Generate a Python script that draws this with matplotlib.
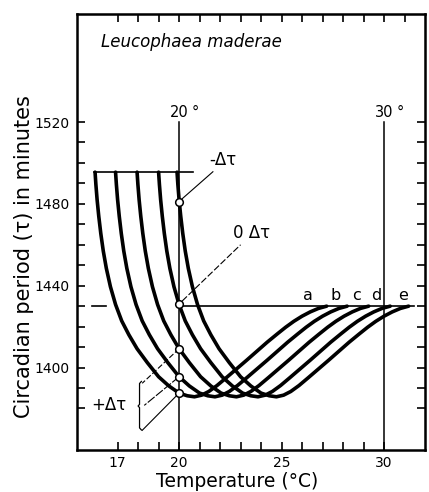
import matplotlib
matplotlib.use("Agg")
import matplotlib.pyplot as plt

# ---- data ----
period_path = [1495.5, 1489.5, 1482.0, 1474.0, 1465.5, 1457.0, 1448.5, 1439.5, 1430.8, 1422.8, 1416.0,
               1409.2, 1402.4, 1395.5, 1391.0, 1387.5, 1386.2, 1385.7, 1386.5, 1388.3, 1391.2, 1395.0,
               1399.3, 1403.6, 1408.0, 1412.4, 1416.5, 1419.7, 1422.6, 1425.1, 1427.2, 1428.9, 1430.0]

temp_a = [15.90, 15.94, 16.00, 16.08, 16.18, 16.30, 16.45, 16.65, 16.90, 17.20, 17.55, 17.95, 18.45, 19.00, 19.50,
          20.00, 20.40, 20.75, 21.10, 21.45, 21.85, 22.30, 22.80, 23.30, 23.80, 24.30, 24.80, 25.20, 25.60, 26.00,
          26.40, 26.80, 27.20]
temp_b = [16.90, 16.94, 17.00, 17.08, 17.18, 17.30, 17.45, 17.65, 17.90, 18.20, 18.55, 18.95, 19.45, 20.00, 20.50,
          21.00, 21.40, 21.75, 22.10, 22.45, 22.85, 23.30, 23.80, 24.30, 24.80, 25.30, 25.80, 26.20, 26.60, 27.00,
          27.40, 27.80, 28.20]
temp_c = [17.95, 17.99, 18.05, 18.13, 18.23, 18.35, 18.50, 18.70, 18.95, 19.25, 19.60, 20.00, 20.50, 21.05, 21.55,
          22.05, 22.45, 22.80, 23.15, 23.50, 23.90, 24.35, 24.85, 25.35, 25.85, 26.35, 26.85, 27.25, 27.65, 28.05,
          28.45, 28.85, 29.25]
temp_d = [19.00, 19.04, 19.10, 19.18, 19.28, 19.40, 19.55, 19.75, 20.00, 20.30, 20.65, 21.05, 21.55, 22.10, 22.60,
          23.10, 23.50, 23.85, 24.20, 24.55, 24.95, 25.40, 25.90, 26.40, 26.90, 27.40, 27.90, 28.30, 28.70, 29.10,
          29.50, 29.90, 30.30]
temp_e = [19.90, 19.94, 20.00, 20.08, 20.18, 20.30, 20.45, 20.65, 20.90, 21.20, 21.55, 21.95, 22.45, 23.00, 23.50,
          24.00, 24.40, 24.75, 25.10, 25.45, 25.85, 26.30, 26.80, 27.30, 27.80, 28.30, 28.80, 29.20, 29.60, 30.00,
          30.40, 30.80, 31.20]

curve_names = ["a", "b", "c", "d", "e"]
label_x = [26.30, 27.66, 28.65, 29.60, 30.93]

circle_periods = [1481.0, 1431.0, 1409.2, 1395.5, 1387.5]

x_tick_labels = [17, 20, 25, 30]
y_tick_labels = [1400, 1440, 1480, 1520]

# ---- figure ----
fig = plt.figure(figsize=(4.29, 4.92), dpi=100)
ax = fig.add_axes([0.1786, 0.0854, 0.8121, 0.8861])
ax.set_xlim(15, 32)
ax.set_ylim(1359.7, 1572.8)

for s in ax.spines.values():
    s.set_linewidth(1.8)

ax.set_xticks(x_tick_labels)
ax.set_xticks(list(range(17, 31)), minor=True)
ax.set_yticks(y_tick_labels)
ax.set_yticks(list(range(1380, 1521, 10)), minor=True)
ax.tick_params(which="both", direction="in", length=6, width=1.2, labelsize=10)
ax.tick_params(axis="y", pad=5)
ax.tick_params(axis="x", pad=4)

top = ax.secondary_xaxis("top")
top.set_xticks(list(range(17, 32)))
top.tick_params(direction="in", length=6, width=1.2, labeltop=False)
right = ax.secondary_yaxis("right")
right.set_yticks(list(range(1380, 1521, 10)))
right.tick_params(direction="in", length=6, width=1.2, labelright=False)

# reference lines
ax.plot([20, 20], [1359.7, 1520], color="k", lw=1.1)
ax.plot([30, 30], [1359.7, 1520], color="k", lw=1.1)
ax.plot([15.86, 20.66], [1495.5, 1495.5], color="k", lw=1.2)
ax.plot([15.75, 16.45], [1430, 1430], color="k", lw=1.2)
ax.plot([20, 31.45], [1430, 1430], color="k", lw=1.2)

# curves
for xs in (temp_a, temp_b, temp_c, temp_d, temp_e):
    ax.plot(xs, period_path, color="k", lw=2.6, solid_joinstyle="round", solid_capstyle="round")

for name, lx in zip(curve_names, label_x):
    ax.text(lx, 1432.9, name, ha="center", va="baseline", fontsize=11.5)

# annotation lines
ax.plot([20.15, 21.65], [1482.5, 1495.7], color="k", lw=0.8)
ax.plot([20.15, 23.0], [1432.5, 1460.0], color="k", lw=0.8, ls=(0, (6, 2)))
ax.plot([20.0, 18.2], [1409.2, 1392.3], color="k", lw=0.8, ls=(0, (5, 2)))
ax.plot([20.0, 18.3], [1395.5, 1381.5], color="k", lw=0.8, ls=(0, (8, 1.5)))
ax.plot([20.0, 18.2], [1387.5, 1369.3], color="k", lw=0.8)
# brace
ax.plot([18.16, 18.07, 18.07, 18.0, 18.07, 18.07, 18.16],
        [1393.2, 1392.2, 1382.0, 1381.2, 1380.4, 1370.5, 1369.5], color="k", lw=0.9)

ax.plot([20] * len(circle_periods), circle_periods, "o", mfc="white", mec="k", ms=5.5, mew=1.1, zorder=5)

ax.text(22.15, 1501.4, "-Δτ", ha="center", va="center", fontsize=12)
ax.text(23.55, 1465.7, "0 Δτ", ha="center", va="center", fontsize=12)
ax.text(16.56, 1381.5, "+Δτ", ha="center", va="center", fontsize=12)

ax.text(20, 1522.4, "20", ha="center", va="baseline", fontsize=10.5)
ax.text(20.62, 1522.4, "°", ha="left", va="baseline", fontsize=10.5)
ax.text(30, 1522.4, "30", ha="center", va="baseline", fontsize=10.5)
ax.text(30.62, 1522.4, "°", ha="left", va="baseline", fontsize=10.5)

ax.text(0.07, 0.936, "Leucophaea maderae", transform=ax.transAxes, style="italic",
        fontsize=12, ha="left", va="center")

fig.text(24 / 429, 1 - 257 / 492, "Circadian period (τ) in minutes", rotation=90,
         ha="center", va="center", fontsize=15)
fig.text(237 / 429, 1 - 487 / 492, "Temperature (°C)", ha="center", va="baseline", fontsize=13.5)

fig.savefig("out.png", dpi=100)
